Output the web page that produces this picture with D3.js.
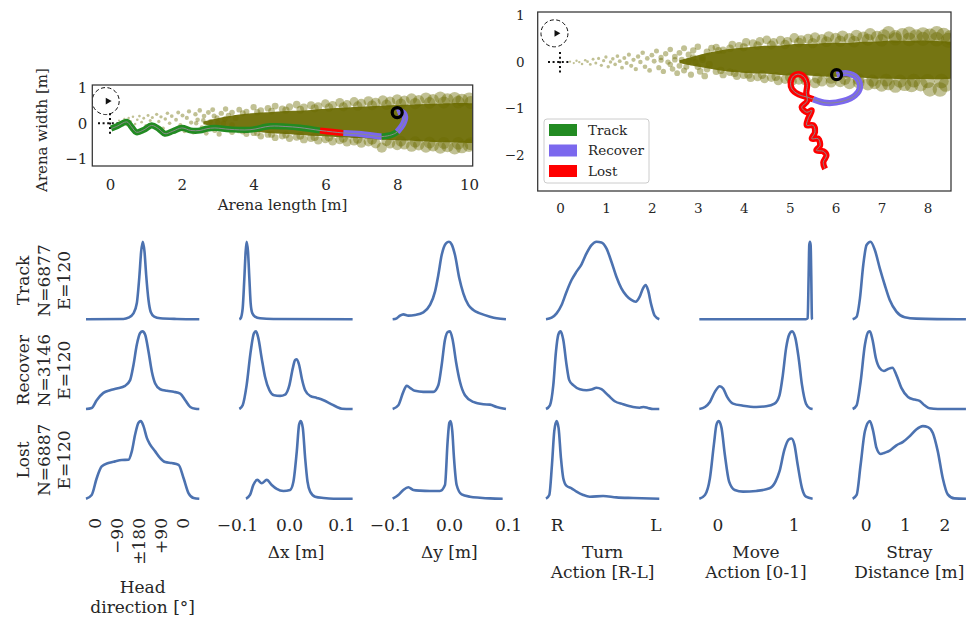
<!DOCTYPE html>
<html>
<head>
<meta charset="utf-8">
<script src="https://cdn.jsdelivr.net/npm/d3@7"></script>
<style>
  body { margin: 0; background: #fff; }
  svg text { font-family: "DejaVu Serif", serif; fill: #262626; }
</style>
</head>
<body>
<svg id="chart" width="970" height="620"></svg>
<script>
// ---------------- data ----------------
const phases = ["Track", "Recover", "Lost"];
const phaseColors = { Track: "#228b22", Recover: "#7b68ee", Lost: "#ff0000" };
const rowCounts = ["N=6877", "N=3146", "N=6887"];
const rowEpisodes = ["E=120", "E=120", "E=120"];

// arena A (10 m): dense plume core envelope
const plumeAX = [2.6, 3.0, 3.4, 3.8, 4.2, 4.6, 5.0, 5.4, 5.8, 6.2, 6.6, 7.0, 7.4, 7.8, 8.2, 8.6, 9.0, 9.4, 9.8, 10.103];
const plumeATop = [0.05, 0.14, 0.22, 0.27, 0.3, 0.32, 0.36, 0.35, 0.4, 0.42, 0.44, 0.46, 0.48, 0.5, 0.52, 0.53, 0.55, 0.56, 0.57, 0.56];
const plumeABottom = [-0.03, -0.1, -0.16, -0.22, -0.25, -0.29, -0.3, -0.33, -0.36, -0.37, -0.4, -0.42, -0.44, -0.47, -0.48, -0.5, -0.52, -0.53, -0.54, -0.55];
// arena A: individual odour puffs
const puffsA = [
  [0.25,0.08],[0.32,0.0],[0.4,0.12],[0.46,-0.05],[0.52,0.15],[0.58,0.05],[0.64,0.18],[0.7,-0.02],
  [0.76,0.1],[0.82,0.2],[0.88,0.03],[0.94,0.14],[1.0,-0.06],[1.06,0.22],[1.12,0.08],[1.18,0.16],
  [1.24,-0.1],[1.3,0.25],[1.36,0.05],[1.42,0.18],[1.48,-0.14],[1.54,0.12],[1.6,0.28],[1.66,0.0],
  [1.72,0.2],[1.78,-0.18],[1.84,0.1],[1.9,0.3],[1.96,-0.05],[2.02,0.22],[2.08,-0.22],[2.14,0.15],
  [2.2,0.33],[2.26,0.02],[2.32,-0.25],[2.38,0.25],[2.44,0.1],[2.5,0.36],[2.56,-0.12],[2.62,0.2],
  [2.68,-0.28],[2.74,0.3],[2.8,0.05],[2.86,0.38],[2.92,-0.2],[2.98,0.15],[3.04,-0.3],[3.1,0.28],
  [3.16,0.0],[3.22,0.4],[3.28,-0.15],
  [2.4,0.0],[2.6,0.08],[2.8,-0.1],[3.0,0.02],[3.2,0.12],[3.4,-0.05],[3.5,0.15],[2.9,0.2],
  [3.4,0.3],[3.6,0.38],[3.8,0.32],[4.0,0.45],[4.2,0.36],[4.4,0.42],[4.6,0.48],[4.8,0.4],
  [5.0,0.46],[5.2,0.52],[5.4,0.44],[5.6,0.5],[5.8,0.47],[6.0,0.55],[6.2,0.5],[6.4,0.58],
  [6.6,0.52],[6.8,0.6],[7.0,0.55],[7.2,0.62],[7.4,0.57],[7.6,0.64],[7.8,0.6],[8.0,0.66],
  [8.2,0.62],[8.4,0.68],[8.6,0.63],[8.8,0.7],[9.0,0.65],[9.2,0.72],[9.4,0.67],[9.6,0.7],
  [9.8,0.65],[10.0,0.68],
  [3.4,-0.25],[3.6,-0.2],[3.8,-0.3],[4.0,-0.27],[4.2,-0.36],[4.4,-0.31],[4.6,-0.4],[4.8,-0.35],
  [5.0,-0.42],[5.2,-0.38],[5.4,-0.45],[5.6,-0.41],[5.8,-0.48],[6.0,-0.44],[6.2,-0.5],[6.4,-0.46],
  [6.6,-0.52],[6.8,-0.49],[7.0,-0.55],[7.2,-0.51],[7.4,-0.56],[7.57,-0.68],[7.8,-0.56],[8.0,-0.6],
  [8.2,-0.58],[8.4,-0.64],[8.6,-0.6],[8.8,-0.66],[9.0,-0.62],[9.2,-0.68],[9.4,-0.64],[9.6,-0.7],
  [9.8,-0.66],[10.0,-0.62]
];
// arena A: puffs straddling the edge of the dense core
const puffsAEdge = [
  [3.3,0.22],[3.7,0.28],[4.1,0.31],[4.5,0.34],[4.9,0.37],[5.3,0.38],[5.7,0.42],[6.1,0.44],
  [6.5,0.46],[6.9,0.48],[7.3,0.5],[7.7,0.52],[8.1,0.54],[8.5,0.55],[8.9,0.57],[9.3,0.58],
  [9.7,0.59],[10.05,0.58],
  [3.3,-0.17],[3.7,-0.23],[4.1,-0.27],[4.5,-0.31],[4.9,-0.32],[5.3,-0.35],[5.7,-0.38],[6.1,-0.39],
  [6.5,-0.42],[6.9,-0.44],[7.3,-0.46],[7.7,-0.49],[8.1,-0.5],[8.5,-0.52],[8.9,-0.54],[9.3,-0.55],
  [9.7,-0.56],[10.05,-0.57]
];
// arena A: agent path, split by behaviour
const pathATrack1 = [[0.03,-0.15],[0.2,-0.08],[0.47,0.04],[0.6,-0.1],[0.74,-0.25],[0.95,-0.18],[1.16,-0.06],
  [1.35,-0.15],[1.53,-0.29],[1.75,-0.22],[2.0,-0.13],[2.25,-0.2],[2.51,-0.2],[2.7,-0.15],[2.92,-0.13],
  [3.34,-0.17],[3.9,-0.18],[4.46,-0.08],[4.9,-0.09],[5.29,-0.12],[5.85,-0.2]];
const pathALost = [[5.85,-0.2],[6.2,-0.24],[6.5,-0.27]];
const pathARecover1 = [[6.5,-0.27],[7.0,-0.3],[7.57,-0.37]];
const pathATrack2 = [[7.57,-0.37],[7.85,-0.32],[8.0,-0.24]];
const pathARecover2 = [[8.0,-0.24],[8.17,-0.01],[8.22,0.18],[8.13,0.32],[8.0,0.3]];

// arena B (8.5 m): dense plume core envelope
const plumeBX = [2.6, 3.0, 3.3, 3.6, 3.9, 4.2, 4.5, 4.8, 5.1, 5.4, 5.7, 6.0, 6.3, 6.6, 6.9, 7.2, 7.5, 7.8, 8.1, 8.51];
const plumeBTop = [0.04, 0.15, 0.22, 0.28, 0.3, 0.33, 0.36, 0.35, 0.4, 0.38, 0.41, 0.42, 0.4, 0.45, 0.43, 0.48, 0.45, 0.47, 0.46, 0.44];
const plumeBBottom = [-0.02, -0.1, -0.15, -0.2, -0.22, -0.25, -0.24, -0.28, -0.3, -0.28, -0.32, -0.31, -0.34, -0.33, -0.37, -0.35, -0.38, -0.36, -0.37, -0.36];
const puffsB = [
  [0.22,0.01],[0.3,-0.02],[0.36,0.03],[0.42,0.0],[0.48,-0.04],[0.55,0.04],[0.6,0.01],[0.66,-0.05],
  [0.72,0.06],[0.78,-0.02],[0.84,0.08],[0.9,-0.07],[0.95,0.03],[1.0,0.11],[1.05,-0.1],[1.1,0.0],
  [1.15,0.07],[1.2,-0.05],[1.25,0.13],[1.3,0.02],[1.35,-0.12],[1.4,0.09],[1.45,-0.02],[1.5,0.16],
  [1.55,-0.08],[1.6,0.05],[1.65,-0.15],[1.7,0.12],[1.75,0.0],[1.8,0.2],[1.85,-0.1],[1.9,0.08],
  [1.95,-0.18],[2.0,0.15],[2.05,0.02],[2.1,0.24],[2.15,-0.12],[2.2,0.1],[2.25,-0.2],[2.3,0.18],
  [2.35,0.0],[2.4,0.27],[2.45,-0.15],[2.5,0.12],[2.55,-0.24],[2.6,0.2],[2.65,0.05],[2.7,0.3],
  [2.75,-0.1],[2.8,0.16],[2.85,-0.27],[2.9,0.25],[2.95,0.0],[3.0,0.33],[3.05,-0.2],[3.1,0.1],
  [3.15,-0.3],[3.2,0.22],[3.25,-0.05],[3.3,0.3],
  [2.2,0.04],[2.4,-0.05],[2.6,-0.08],[2.8,0.02],[2.9,0.1],[3.0,-0.1],[3.1,0.05],[3.2,-0.15],
  [2.7,-0.18],[2.5,0.05],
  [3.4,0.32],[3.55,0.26],[3.75,0.38],[3.9,0.35],[4.05,0.43],[4.2,0.4],[4.35,0.45],[4.5,0.48],
  [4.65,0.42],[4.8,0.47],[4.95,0.44],[5.1,0.52],[5.25,0.47],[5.4,0.5],[5.55,0.53],[5.7,0.49],
  [5.85,0.55],[6.0,0.51],[6.15,0.56],[6.3,0.5],[6.45,0.57],[6.6,0.53],[6.75,0.6],[6.9,0.54],
  [7.05,0.57],[7.15,0.64],[7.3,0.55],[7.45,0.59],[7.6,0.62],[7.75,0.56],[7.9,0.6],[8.05,0.57],
  [8.2,0.62],[8.35,0.58],[8.5,0.53],
  [3.4,-0.2],[3.55,-0.27],[3.7,-0.22],[3.85,-0.3],[4.0,-0.28],[4.15,-0.34],[4.3,-0.32],[4.45,-0.36],
  [4.6,-0.33],[4.75,-0.4],[4.9,-0.37],[5.05,-0.41],[5.2,-0.38],[5.35,-0.4],[5.55,-0.45],[5.7,-0.41],
  [5.9,-0.43],[6.1,-0.42],[6.3,-0.46],[6.5,-0.44],[6.7,-0.48],[6.85,-0.45],[7.0,-0.5],[7.15,-0.47],
  [7.3,-0.52],[7.5,-0.48],[7.65,-0.5],[7.85,-0.48],[8.05,-0.59],[8.27,-0.59],[8.4,-0.48]
];
// arena B: puffs straddling the edge of the dense core
const puffsBEdge = [
  [3.45,0.25],[3.7,0.3],[4.0,0.32],[4.3,0.36],[4.6,0.37],[4.9,0.38],[5.2,0.42],[5.5,0.41],
  [5.8,0.44],[6.1,0.45],[6.4,0.44],[6.7,0.48],[7.0,0.47],[7.3,0.5],[7.6,0.49],[7.9,0.5],
  [8.2,0.49],[8.45,0.47],
  [3.5,-0.18],[3.8,-0.24],[4.1,-0.27],[4.4,-0.27],[4.7,-0.31],[5.0,-0.33],[5.3,-0.32],[5.6,-0.35],
  [5.9,-0.35],[6.2,-0.37],[6.5,-0.37],[6.8,-0.4],[7.1,-0.39],[7.4,-0.41],[7.7,-0.4],[8.0,-0.41],
  [8.3,-0.41]
];
const pathBRecover = [[6.02,-0.27],[6.24,-0.24],[6.45,-0.33],[6.53,-0.54],[6.42,-0.72],[6.16,-0.84],
  [5.8,-0.88],[5.51,-0.8]];
const pathBLost = [[5.51,-0.8],[5.4,-0.76],[5.2,-0.7],[5.05,-0.58],[5.02,-0.44],[5.08,-0.3],[5.2,-0.26],
  [5.32,-0.33],[5.38,-0.48],[5.36,-0.66],[5.38,-0.84],[5.26,-0.97],[5.37,-1.08],[5.48,-1.04],
  [5.4,-1.22],[5.37,-1.36],[5.51,-1.36],[5.55,-1.51],[5.48,-1.65],[5.62,-1.65],[5.66,-1.8],
  [5.58,-1.9],[5.73,-1.92],[5.8,-2.01],[5.73,-2.16],[5.77,-2.3]];
const startPoint = [-0.12, 0.62];

// behaviour distributions (x value, density relative to its peak)
const headTrack = [[-32.7,0],[120,0.004],[140.4,0.021],[160.9,0.077],[174.5,0.206],[185.4,0.571],[192.2,0.871],[199,1],[205.9,0.871],[212.7,0.571],[222.2,0.249],[231.8,0.09],[245.4,0.034],[270,0.013],[338,0.004],[429.4,0]];
const headRecover = [[-32.7,0],[-9.5,0.013],[10.9,0.113],[38.2,0.208],[65.4,0.242],[92.7,0.264],[126.8,0.299],[147.2,0.372],[160.9,0.567],[174.5,0.827],[188.1,0.978],[197.7,1],[208.6,0.957],[222.2,0.74],[235.9,0.481],[249.5,0.329],[269.9,0.255],[297.2,0.234],[324.5,0.221],[351.7,0.199],[372.2,0.113],[392.6,0.026],[413.1,0.004],[429.4,0]];
const headLost = [[-32.7,0],[-9.5,0.048],[10.9,0.264],[31.4,0.416],[58.6,0.459],[85.9,0.481],[113.2,0.498],[140.4,0.502],[154.1,0.61],[167.7,0.827],[181.3,0.978],[190.9,1],[201.8,0.935],[215.4,0.784],[229,0.697],[249.5,0.61],[269.9,0.524],[290.4,0.472],[317.6,0.459],[344.9,0.437],[365.4,0.264],[385.8,0.069],[406.3,0.009],[429.4,0]];

const dxTrack = [[-0.0953,0],[-0.0928,0.013],[-0.0889,0.142],[-0.0857,0.528],[-0.0832,0.871],[-0.0813,1],[-0.0787,0.871],[-0.0761,0.528],[-0.0736,0.206],[-0.0704,0.077],[-0.0653,0.034],[-0.0557,0.013],[-0.0301,0.004],[0.1216,0]];
const dxRecover = [[-0.0953,0],[-0.0889,0.048],[-0.0813,0.307],[-0.0736,0.74],[-0.0672,0.978],[-0.0633,1],[-0.0589,0.913],[-0.0525,0.654],[-0.0461,0.416],[-0.0377,0.242],[-0.0288,0.177],[-0.0173,0.169],[-0.0077,0.186],[0.0006,0.307],[0.007,0.524],[0.0115,0.632],[0.0147,0.641],[0.0192,0.567],[0.0243,0.394],[0.0307,0.242],[0.0403,0.169],[0.0531,0.143],[0.0659,0.113],[0.0787,0.069],[0.0915,0.026],[0.1011,0.004],[0.1216,0]];
const dxLost = [[-0.0825,0],[-0.0749,0.048],[-0.0685,0.177],[-0.0608,0.242],[-0.0525,0.199],[-0.0429,0.242],[-0.0333,0.177],[-0.0237,0.126],[-0.0109,0.1],[0.0019,0.113],[0.0083,0.221],[0.0147,0.61],[0.0192,0.957],[0.0224,1],[0.0262,0.913],[0.0307,0.524],[0.0352,0.221],[0.0403,0.091],[0.0499,0.026],[0.0659,0.009],[0.0851,0],[0.1216,0]];

const dyTrack = [[-0.0955,0],[-0.0887,0.013],[-0.0831,0.047],[-0.0774,0.064],[-0.0689,0.047],[-0.0576,0.056],[-0.0435,0.09],[-0.0322,0.185],[-0.0237,0.356],[-0.0181,0.571],[-0.0124,0.828],[-0.0051,0.979],[0,1],[0.0045,0.966],[0.0102,0.828],[0.0175,0.528],[0.0243,0.335],[0.0328,0.185],[0.0412,0.12],[0.0525,0.077],[0.0695,0.034],[0.0808,0.013],[0.0966,0]];
const dyRecover = [[-0.0955,0],[-0.0859,0.048],[-0.0774,0.221],[-0.0718,0.299],[-0.0661,0.273],[-0.0576,0.234],[-0.0435,0.221],[-0.0266,0.221],[-0.0181,0.307],[-0.0124,0.567],[-0.0068,0.892],[-0.0023,0.991],[0.0017,1],[0.0062,0.892],[0.0119,0.61],[0.0186,0.351],[0.0271,0.177],[0.0412,0.091],[0.0582,0.061],[0.0695,0.056],[0.0808,0.026],[0.0966,0]];
const dyLost = [[-0.0955,0],[-0.0859,0.048],[-0.0774,0.113],[-0.0689,0.147],[-0.0605,0.113],[-0.0492,0.104],[-0.0322,0.1],[-0.0153,0.1],[-0.0068,0.177],[-0.0023,0.74],[0.0006,0.978],[0.0028,1],[0.0056,0.87],[0.0085,0.524],[0.013,0.177],[0.0215,0.056],[0.0356,0.026],[0.0525,0.013],[0.0695,0.004],[0.091,0]];

const turnTrack = [[-1.215,0],[-1.101,0.021],[-1.0,0.077],[-0.899,0.185],[-0.798,0.356],[-0.697,0.506],[-0.596,0.614],[-0.495,0.708],[-0.394,0.85],[-0.293,0.957],[-0.192,1],[-0.091,0.991],[0.01,0.914],[0.111,0.742],[0.212,0.549],[0.313,0.399],[0.414,0.305],[0.515,0.249],[0.603,0.227],[0.684,0.292],[0.751,0.399],[0.805,0.442],[0.852,0.378],[0.919,0.185],[0.987,0.047],[1.081,0]];
const turnRecover = [[-1.215,0],[-1.135,0.048],[-1.067,0.307],[-1.013,0.74],[-0.966,0.957],[-0.919,1],[-0.865,0.892],[-0.798,0.567],[-0.744,0.372],[-0.663,0.307],[-0.529,0.255],[-0.394,0.242],[-0.293,0.251],[-0.192,0.273],[-0.091,0.255],[0.044,0.177],[0.178,0.1],[0.347,0.061],[0.549,0.026],[0.684,0.017],[0.764,0.026],[0.852,0.013],[0.953,0],[1.081,0]];
const turnLost = [[-1.215,0],[-1.148,0.048],[-1.094,0.437],[-1.047,0.87],[-1.0,1],[-0.96,0.913],[-0.912,0.524],[-0.865,0.264],[-0.798,0.165],[-0.697,0.134],[-0.596,0.091],[-0.461,0.048],[-0.327,0.026],[-0.057,0.035],[0.212,0.017],[0.549,0.009],[1.081,0]];

const moveTrack = [[-0.239,0],[1.161,0],[1.183,0.013],[1.196,0.571],[1.204,0.957],[1.213,1],[1.222,0.957],[1.23,0.571],[1.239,0.013],[1.248,0]];
const moveRecover = [[-0.239,0],[-0.165,0.026],[-0.1,0.091],[-0.035,0.221],[0.03,0.294],[0.074,0.264],[0.126,0.156],[0.204,0.069],[0.335,0.043],[0.509,0.026],[0.639,0.035],[0.748,0.069],[0.813,0.177],[0.857,0.437],[0.9,0.784],[0.943,0.965],[0.978,1],[1.022,0.913],[1.065,0.654],[1.109,0.307],[1.161,0.069],[1.213,0.009],[1.248,0]];
const moveLost = [[-0.239,0],[-0.165,0.048],[-0.1,0.264],[-0.048,0.697],[-0.013,0.957],[0.017,1],[0.052,0.913],[0.096,0.567],[0.152,0.221],[0.226,0.113],[0.335,0.091],[0.509,0.1],[0.683,0.134],[0.761,0.221],[0.813,0.351],[0.878,0.632],[0.935,0.762],[0.97,0.775],[1.009,0.697],[1.052,0.437],[1.109,0.134],[1.161,0.026],[1.248,0]];

const strayTrack = [[-0.328,0],[-0.227,0.034],[-0.143,0.27],[-0.059,0.7],[0.025,0.957],[0.126,1],[0.235,0.893],[0.361,0.657],[0.487,0.442],[0.613,0.249],[0.782,0.099],[0.992,0.026],[1.286,0.009],[2.546,0]];
const strayRecover = [[-0.328,0],[-0.227,0.048],[-0.126,0.351],[-0.017,0.827],[0.067,0.991],[0.109,1],[0.176,0.892],[0.261,0.654],[0.361,0.524],[0.462,0.489],[0.571,0.515],[0.681,0.532],[0.782,0.437],[0.908,0.273],[1.076,0.156],[1.244,0.121],[1.37,0.104],[1.496,0.048],[1.622,0.009],[1.832,0],[2.546,0]];
const strayLost = [[-0.328,0],[-0.227,0.048],[-0.126,0.437],[-0.017,0.87],[0.109,1],[0.193,0.87],[0.277,0.654],[0.378,0.576],[0.487,0.593],[0.613,0.619],[0.782,0.688],[0.95,0.732],[1.118,0.805],[1.286,0.892],[1.454,0.935],[1.58,0.922],[1.706,0.848],[1.832,0.61],[1.958,0.264],[2.084,0.056],[2.252,0.004],[2.546,0]];

// axis ticks and titles of the distribution columns
const headTicks = [0, 90, 180, 270, 360];
const headTickLabels = ["0", "\u221290", "\u00b1180", "+90", "0"];
const dxTicks = [-0.1, 0, 0.1];
const dxTickLabels = ["\u22120.1", "0.0", "0.1"];
const dyTicks = [-0.1, 0, 0.1];
const dyTickLabels = ["\u22120.1", "0.0", "0.1"];
const turnTicks = [-1, 1];
const turnTickLabels = ["R", "L"];
const moveTicks = [0, 1];
const moveTickLabels = ["0", "1"];
const strayTicks = [0, 1, 2];
const strayTickLabels = ["0", "1", "2"];
const columnTitles = [
  ["Head", "direction [\u00b0]"], ["\u0394x [m]"], ["\u0394y [m]"],
  ["Turn", "Action [R-L]"], ["Move", "Action [0-1]"], ["Stray", "Distance [m]"]
];

// ---------------- drawing ----------------
const svg = d3.select("#chart");
const plumeColor = "#6b6b00";
const kdeColor = "#4c72b0";

function styleAxis(g, size) {
  g.attr("font-family", null).attr("font-size", size);
  g.select(".domain").remove();
  g.selectAll(".tick line").remove();
}

function arena(cfg) {
  const x = d3.scaleLinear(cfg.xDomain, [cfg.left, cfg.right]);
  const y = d3.scaleLinear(cfg.yDomain, [cfg.bottom, cfg.top]);
  const g = svg.append("g");
  svg.append("clipPath").attr("id", cfg.id + "-clip").append("rect")
    .attr("x", cfg.left).attr("y", cfg.top)
    .attr("width", cfg.right - cfg.left).attr("height", cfg.bottom - cfg.top);
  const inner = g.append("g").attr("clip-path", `url(#${cfg.id}-clip)`);

  // odour plume: dense core plus individual puffs
  const core = d3.zip(cfg.coreX, cfg.coreTop, cfg.coreBottom);
  inner.append("path")
    .attr("d", d3.area().x(d => x(d[0])).y0(d => y(d[2])).y1(d => y(d[1])).curve(d3.curveBasis)(core))
    .attr("fill", plumeColor).attr("fill-opacity", 0.93);
  const r = d3.scaleLinear([0, cfg.xDomain[1]], [0.9, cfg.maxR]);
  inner.selectAll("circle.puff").data(cfg.puffs.concat(cfg.edgePuffs)).join("circle")
    .attr("class", "puff")
    .attr("cx", d => x(d[0])).attr("cy", d => y(d[1])).attr("r", d => r(d[0]))
    .attr("fill", plumeColor).attr("fill-opacity", 0.42);

  // start marker: dashed ring with heading arrow, dotted cross at origin
  const sx = x(startPoint[0]), sy = y(startPoint[1]);
  inner.append("circle").attr("cx", sx).attr("cy", sy).attr("r", 13.5)
    .attr("fill", "none").attr("stroke", "#111").attr("stroke-width", 1)
    .attr("stroke-dasharray", "4,2.5");
  inner.append("path").attr("d", d3.symbol(d3.symbolTriangle, 20)())
    .attr("transform", `translate(${sx + 2},${sy}) rotate(90)`).attr("fill", "#111");
  const ox = x(0), oy = y(0);
  inner.append("line").attr("x1", ox - 12).attr("x2", ox + 11).attr("y1", oy).attr("y2", oy)
    .attr("stroke", "#111").attr("stroke-width", 2).attr("stroke-dasharray", "2,2.6");
  inner.append("line").attr("x1", ox).attr("x2", ox).attr("y1", oy - 10).attr("y2", oy + 12)
    .attr("stroke", "#111").attr("stroke-width", 2).attr("stroke-dasharray", "2,2.6");

  // agent path
  const line = d3.line().x(d => x(d[0])).y(d => y(d[1])).curve(d3.curveCatmullRom.alpha(0.5));
  cfg.segments.forEach(s => {
    inner.append("path").attr("d", line(s.points)).attr("fill", "none")
      .attr("stroke", phaseColors[s.phase]).attr("stroke-width", 6.2)
      .attr("stroke-linejoin", "round");
  });
  const full = cfg.segments.flatMap((s, i) => i === 0 ? s.points : s.points.slice(1));
  inner.append("path").attr("d", line(full)).attr("fill", "none")
    .attr("stroke", "#8a8a8a").attr("stroke-width", 1);
  const end = cfg.ringAtStart ? full[0] : full[full.length - 1];
  inner.append("circle").attr("cx", x(end[0])).attr("cy", y(end[1])).attr("r", 5)
    .attr("fill", "none").attr("stroke", "#000").attr("stroke-width", 3.2);

  // frame
  g.append("rect").attr("x", cfg.left).attr("y", cfg.top)
    .attr("width", cfg.right - cfg.left).attr("height", cfg.bottom - cfg.top)
    .attr("fill", "none").attr("stroke", "#333").attr("stroke-width", 1.25);

  // axes
  const ax = g.append("g").attr("transform", `translate(0,${cfg.bottom})`)
    .call(d3.axisBottom(x).tickValues(cfg.xTicks).tickFormat(d3.format("d"))
      .tickSize(0).tickPadding(cfg.xPad));
  styleAxis(ax, cfg.fontSize);
  const ay = g.append("g").attr("transform", `translate(${cfg.left},0)`)
    .call(d3.axisLeft(y).tickValues(cfg.yTicks).tickFormat(d3.format("d"))
      .tickSize(0).tickPadding(cfg.yPad));
  styleAxis(ay, cfg.fontSize);
  return { g, x, y };
}

// arena A (left)
const A = arena({
  id: "arenaA", left: 92.3, right: 472.7, top: 85, bottom: 166,
  xDomain: [-0.493, 10.103], yDomain: [-1.191, 1.068],
  coreX: plumeAX, coreTop: plumeATop, coreBottom: plumeABottom,
  puffs: puffsA, edgePuffs: puffsAEdge, maxR: 6.5,
  segments: [
    { phase: "Track", points: pathATrack1 }, { phase: "Lost", points: pathALost },
    { phase: "Recover", points: pathARecover1 }, { phase: "Track", points: pathATrack2 },
    { phase: "Recover", points: pathARecover2 }
  ],
  ringAtStart: false,
  xTicks: [0, 2, 4, 6, 8, 10], yTicks: [-1, 0, 1], xPad: 13.5, yPad: 5, fontSize: 15
});
A.g.append("text").attr("x", 282.5).attr("y", 210).attr("text-anchor", "middle")
  .attr("font-size", 15).text("Arena length [m]");
A.g.append("text").attr("transform", "translate(41.7,130) rotate(-90)").attr("dy", "0.35em")
  .attr("text-anchor", "middle").attr("font-size", 15).text("Arena width [m]");

// arena B (right)
const B = arena({
  id: "arenaB", left: 537.7, right: 951, top: 12, bottom: 191,
  xDomain: [-0.485, 8.51], yDomain: [-2.776, 1.079],
  coreX: plumeBX, coreTop: plumeBTop, coreBottom: plumeBBottom,
  puffs: puffsB, edgePuffs: puffsBEdge, maxR: 7.5,
  segments: [
    { phase: "Recover", points: pathBRecover }, { phase: "Lost", points: pathBLost }
  ],
  ringAtStart: true,
  xTicks: d3.range(0, 9), yTicks: [-2, -1, 0, 1], xPad: 12.7, yPad: 13, fontSize: 13.5
});

// legend
const leg = B.g.append("g");
leg.append("rect").attr("x", 544).attr("y", 119).attr("width", 105).attr("height", 64)
  .attr("rx", 3).attr("fill", "#fff").attr("fill-opacity", 0.85)
  .attr("stroke", "#cccccc").attr("stroke-width", 1);
phases.forEach((p, i) => {
  const cy = 130 + i * 20.5;
  leg.append("rect").attr("x", 549).attr("y", cy - 6).attr("width", 28).attr("height", 12)
    .attr("fill", phaseColors[p]);
  leg.append("text").attr("x", 588).attr("y", cy).attr("dy", "0.36em")
    .attr("font-size", 13.5).text(p);
});

// distribution grid
const columns = [
  { domain: [-32.7, 429.4], ticks: headTicks, labels: headTickLabels, curves: [headTrack, headRecover, headLost], rotate: true },
  { domain: [-0.0953, 0.1216], ticks: dxTicks, labels: dxTickLabels, curves: [dxTrack, dxRecover, dxLost] },
  { domain: [-0.0955, 0.0966], ticks: dyTicks, labels: dyTickLabels, curves: [dyTrack, dyRecover, dyLost] },
  { domain: [-1.215, 1.081], ticks: turnTicks, labels: turnTickLabels, curves: [turnTrack, turnRecover, turnLost] },
  { domain: [-0.239, 1.248], ticks: moveTicks, labels: moveTickLabels, curves: [moveTrack, moveRecover, moveLost] },
  { domain: [-0.328, 2.546], ticks: strayTicks, labels: strayTickLabels, curves: [strayTrack, strayRecover, strayLost] }
];
const colLeft0 = 86, colStep = 153.33, colWidth = 113.3;
const rowBase0 = 319.3, rowStep = 89.7, rowPeak = 77.6, rowPadBottom = 3.9;
const grid = svg.append("g");

columns.forEach((col, ci) => {
  const left = colLeft0 + ci * colStep;
  const x = d3.scaleLinear(col.domain, [left, left + colWidth]);
  col.curves.forEach((pts, ri) => {
    const base = rowBase0 + ri * rowStep;
    const y = d3.scaleLinear([0, 1], [base, base - rowPeak]);
    grid.append("path")
      .attr("d", d3.line().x(d => x(d[0])).y(d => y(d[1])).curve(d3.curveMonotoneX)(pts))
      .attr("fill", "none").attr("stroke", kdeColor).attr("stroke-width", 2.6)
      .attr("stroke-linejoin", "round");
  });
  const axisY = rowBase0 + 2 * rowStep + rowPadBottom;
  const ax = grid.append("g").attr("transform", `translate(0,${axisY})`)
    .call(d3.axisBottom(x).tickValues(col.ticks).tickFormat((d, i) => col.labels[i])
      .tickSize(0).tickPadding(16.8));
  styleAxis(ax, 17);
  if (col.rotate) {
    ax.selectAll(".tick text").attr("y", 0).attr("dy", "0.36em").attr("x", -15.4)
      .attr("transform", "rotate(-90)").attr("text-anchor", "end");
  }
  const title = grid.append("text").attr("text-anchor", "middle").attr("font-size", 17);
  const firstBase = col.rotate ? 593 : 558;
  columnTitles[ci].forEach((ln, li) => {
    title.append("tspan").attr("x", left + colWidth / 2).attr("y", firstBase + li * 20).text(ln);
  });
});

// row labels
phases.forEach((p, ri) => {
  const cy = rowBase0 + ri * rowStep - 38.8;
  [p, rowCounts[ri], rowEpisodes[ri]].forEach((t, li) => {
    grid.append("text").attr("transform", `translate(${22.7 + li * 20.8},${cy}) rotate(-90)`)
      .attr("dy", "0.36em").attr("text-anchor", "middle").attr("font-size", 17).text(t);
  });
});
</script>
</body>
</html>
